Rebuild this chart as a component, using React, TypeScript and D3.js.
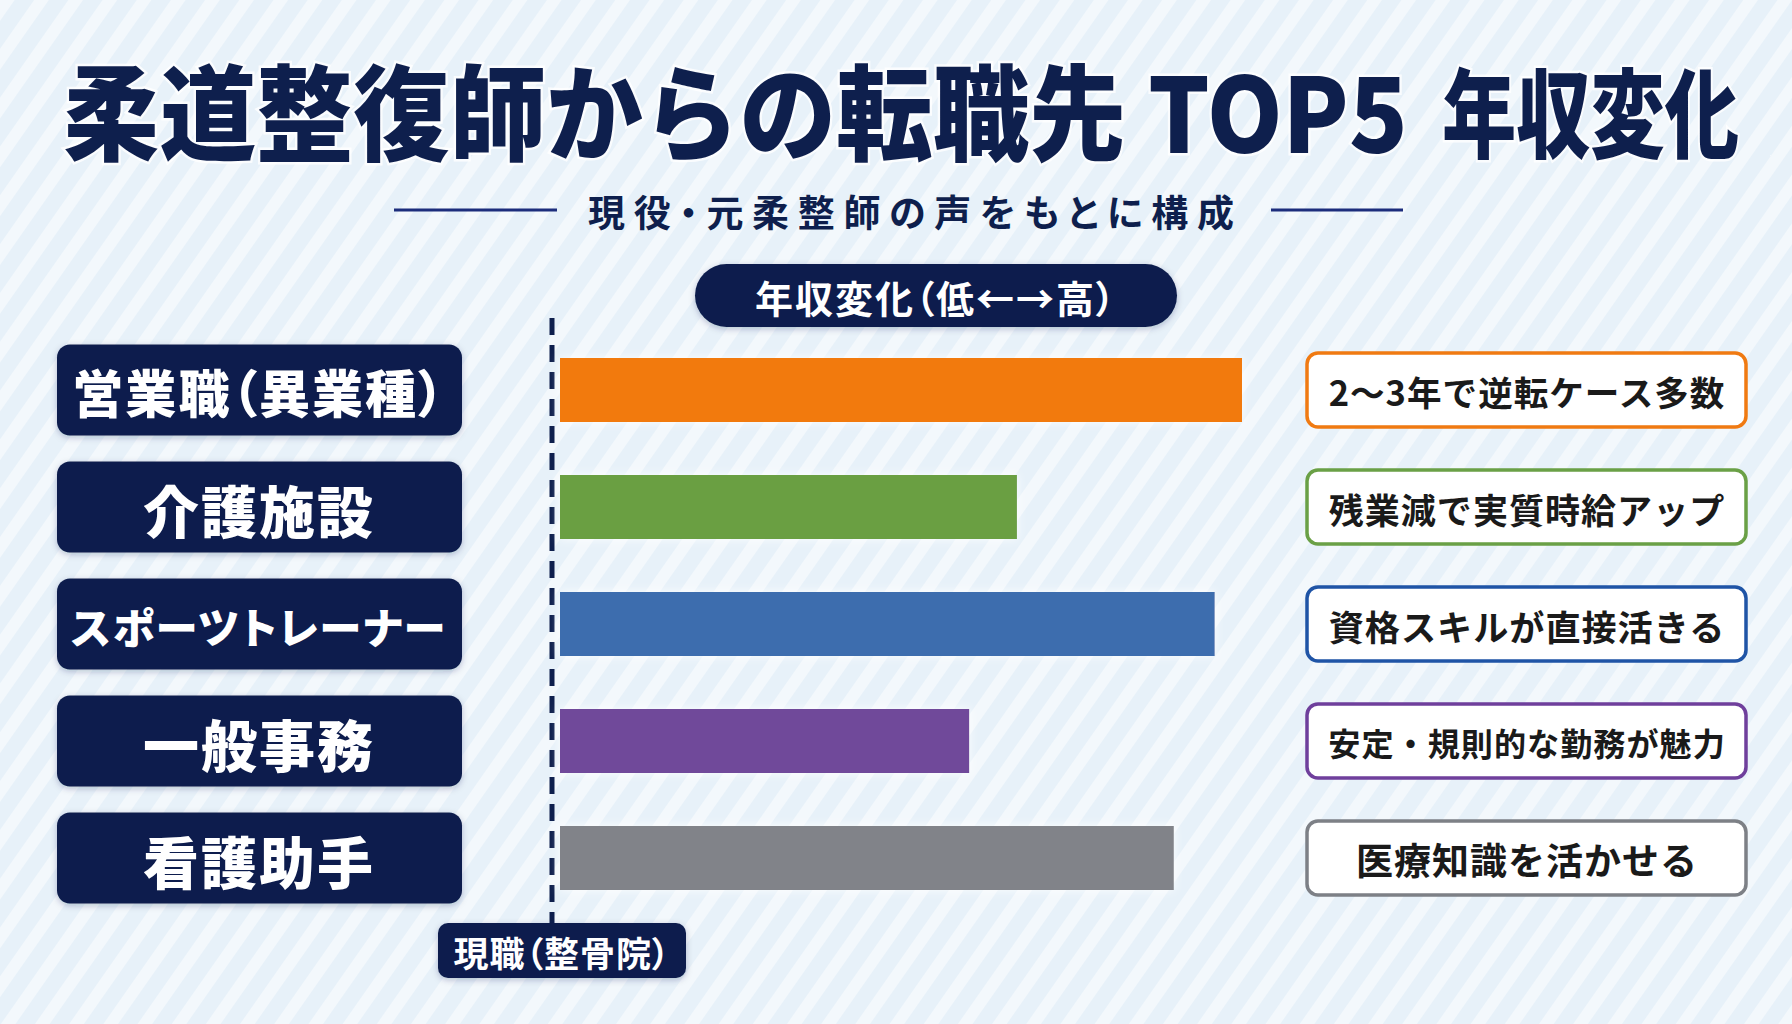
import React, { useEffect, useRef } from 'react';
import * as d3 from 'd3';

// 転職先ごとの年収変化（相対値、整骨院=0 基準）
const categories = ['営業職（異業種）', '介護施設', 'スポーツトレーナー', '一般事務', '看護助手'];
const incomeLevel = [100, 67, 96, 60, 90];
const notes = [
  '2〜3年で逆転ケース多数',
  '残業減で実質時給アップ',
  '資格スキルが直接活きる',
  '安定・規則的な勤務が魅力',
  '医療知識を活かせる',
];
const barColors = ['#f27a0a', '#6a9f42', '#3e6dae', '#70499a', '#818389'];
const noteColors = ['#f07a12', '#6aa046', '#1f54a6', '#6f3f9c', '#7d8086'];

const titleMain = '柔道整復師からの転職先 TOP5';
const titleTail = '年収変化';
const subtitle = '現役・元柔整師の声をもとに構成';
const axisLabel = '年収変化（低←→高）';
const baseLabel = '現職（整骨院）';

const NAVY = '#0e1f4d';
const FONT = '"Noto Sans CJK JP", "Noto Sans", sans-serif';
const PALT = 'font-feature-settings: "palt" 1';

const App = () => {
  const ref = useRef<SVGSVGElement>(null);

  useEffect(() => {
    const svg = d3.select(ref.current);
    svg.selectAll('*').remove();

    const width = 1792;
    const height = 1024;
    svg.attr('width', width).attr('height', height);

    const defs = svg.append('defs');
    const pat = defs.append('pattern')
      .attr('id', 'stripes')
      .attr('width', 28)
      .attr('height', 28)
      .attr('patternUnits', 'userSpaceOnUse')
      .attr('patternTransform', 'rotate(35)');
    pat.append('rect').attr('width', 28).attr('height', 28).attr('fill', '#e7f1f9');
    pat.append('rect').attr('width', 12).attr('height', 28).attr('fill', '#f3f8fc');

    const shadow = defs.append('filter').attr('id', 'shadow')
      .attr('x', '-10%').attr('y', '-20%').attr('width', '120%').attr('height', '150%');
    shadow.append('feDropShadow')
      .attr('dx', 0).attr('dy', 2).attr('stdDeviation', 3)
      .attr('flood-color', '#0e1f4d').attr('flood-opacity', 0.25);

    const glow = defs.append('filter').attr('id', 'glow')
      .attr('x', '-10%').attr('y', '-30%').attr('width', '120%').attr('height', '160%');
    glow.append('feDropShadow')
      .attr('dx', 0).attr('dy', 0).attr('stdDeviation', 5)
      .attr('flood-color', '#ffffff').attr('flood-opacity', 0.9);

    // 背景
    svg.append('rect').attr('width', width).attr('height', height).attr('fill', 'url(#stripes)');

    // 幅に収まるようにフォントを縮める
    const fitFont = (t, size, maxW) => {
      const w = t.node().getComputedTextLength();
      if (w > maxW) t.attr('font-size', size * maxW / w);
    };

    // タイトル（横方向に詰めた太字）
    const titleText = (txt, xPos, size, len) => {
      const t = svg.append('text')
        .attr('x', 0)
        .attr('y', 0)
        .attr('dominant-baseline', 'central')
        .attr('font-family', FONT)
        .attr('font-weight', 900)
        .attr('font-size', size)
        .attr('fill', NAVY)
        .attr('stroke', '#ffffff')
        .attr('stroke-width', 5)
        .attr('stroke-opacity', 0.8)
        .attr('paint-order', 'stroke')
        .text(txt);
      const w = t.node().getComputedTextLength();
      t.attr('transform', `translate(${xPos},108) scale(${len / w},1)`);
    };
    titleText(titleMain, 63, 104, 1345);
    titleText(titleTail, 1442, 96, 297);

    // サブタイトル
    svg.append('text')
      .attr('x', 911)
      .attr('y', 211)
      .attr('text-anchor', 'middle')
      .attr('dominant-baseline', 'central')
      .attr('font-family', FONT)
      .attr('font-weight', 700)
      .attr('font-size', 37)
      .attr('style', PALT)
      .attr('fill', NAVY)
      .attr('textLength', 646)
      .attr('lengthAdjust', 'spacing')
      .text(subtitle);

    svg.append('line').attr('x1', 394).attr('x2', 557).attr('y1', 210).attr('y2', 210)
      .attr('stroke', '#1c2d7c').attr('stroke-width', 3);
    svg.append('line').attr('x1', 1271).attr('x2', 1403).attr('y1', 210).attr('y2', 210)
      .attr('stroke', '#1c2d7c').attr('stroke-width', 3);

    // 軸ラベル（ピル）
    svg.append('rect')
      .attr('x', 695).attr('y', 264).attr('width', 482).attr('height', 63)
      .attr('rx', 31.5)
      .attr('fill', NAVY)
      .attr('filter', 'url(#shadow)');
    const pillText = svg.append('text')
      .attr('x', 936).attr('y', 296)
      .attr('text-anchor', 'middle')
      .attr('dominant-baseline', 'central')
      .attr('font-family', FONT)
      .attr('font-weight', 700)
      .attr('font-size', 38)
      .attr('style', PALT)
      .attr('letter-spacing', 2)
      .attr('fill', '#ffffff')
      .text(axisLabel);
    fitFont(pillText, 38, 380);

    // スケール
    const x = d3.scaleLinear().domain([0, 100]).range([560, 1242]);
    const y = d3.scaleBand().domain(categories).range([331.5, 916.5]);
    const cy = (d) => y(d) + y.bandwidth() / 2;

    const rows = categories.map((c, i) => ({
      category: c,
      value: incomeLevel[i],
      note: notes[i],
      barColor: barColors[i],
      noteColor: noteColors[i],
    }));

    // 基準線（現職）
    svg.append('line')
      .attr('x1', x(0) - 8).attr('x2', x(0) - 8)
      .attr('y1', 318).attr('y2', 923)
      .attr('stroke', NAVY)
      .attr('stroke-width', 5)
      .attr('stroke-dasharray', '17 10');

    // 左の職種ラベル
    const labels = svg.append('g').selectAll('g')
      .data(rows)
      .enter()
      .append('g');

    labels.append('rect')
      .attr('x', 57)
      .attr('y', d => cy(d.category) - 45.5)
      .attr('width', 405)
      .attr('height', 91)
      .attr('rx', 13)
      .attr('fill', NAVY)
      .attr('filter', 'url(#shadow)');

    labels.append('text')
      .attr('x', 259)
      .attr('y', d => cy(d.category) + 1)
      .attr('text-anchor', 'middle')
      .attr('dominant-baseline', 'central')
      .attr('font-family', FONT)
      .attr('font-weight', 900)
      .attr('font-size', 56)
      .attr('style', PALT)
      .attr('letter-spacing', 2)
      .attr('fill', '#ffffff')
      .text(d => d.category)
      .each(function () {
        fitFont(d3.select(this), 56, 372);
      });

    // 棒
    svg.append('g').selectAll('rect')
      .data(rows)
      .enter()
      .append('rect')
      .attr('x', x(0))
      .attr('y', d => cy(d.category) - 32)
      .attr('width', d => x(d.value) - x(0))
      .attr('height', 64)
      .attr('fill', d => d.barColor)
      .attr('filter', 'url(#glow)');

    // 右のコメント
    const noteG = svg.append('g').selectAll('g')
      .data(rows)
      .enter()
      .append('g');

    noteG.append('rect')
      .attr('x', 1307)
      .attr('y', d => cy(d.category) - 37)
      .attr('width', 439)
      .attr('height', 74)
      .attr('rx', 11)
      .attr('fill', '#ffffff')
      .attr('stroke', d => d.noteColor)
      .attr('stroke-width', 3.5);

    noteG.append('text')
      .attr('x', 1527)
      .attr('y', d => cy(d.category) + 1)
      .attr('text-anchor', 'middle')
      .attr('dominant-baseline', 'central')
      .attr('font-family', FONT)
      .attr('font-weight', 700)
      .attr('font-size', 37)
      .attr('fill', '#1a1a1a')
      .attr('letter-spacing', 1)
      .text(d => d.note)
      .each(function () {
        fitFont(d3.select(this), 37, 396);
      });

    // 現職ラベル
    svg.append('rect')
      .attr('x', 438).attr('y', 923).attr('width', 248).attr('height', 55)
      .attr('rx', 10)
      .attr('fill', NAVY)
      .attr('filter', 'url(#shadow)');
    const baseText = svg.append('text')
      .attr('x', 562).attr('y', 951)
      .attr('text-anchor', 'middle')
      .attr('dominant-baseline', 'central')
      .attr('font-family', FONT)
      .attr('font-weight', 700)
      .attr('font-size', 35)
      .attr('style', PALT)
      .attr('letter-spacing', 1)
      .attr('fill', '#ffffff')
      .text(baseLabel);
    fitFont(baseText, 35, 218);
  }, []);

  return (
    <svg
      ref={ref}
      style={{ position: 'absolute', left: 0, top: 0, display: 'block' }}
    ></svg>
  );
};

export default App;
